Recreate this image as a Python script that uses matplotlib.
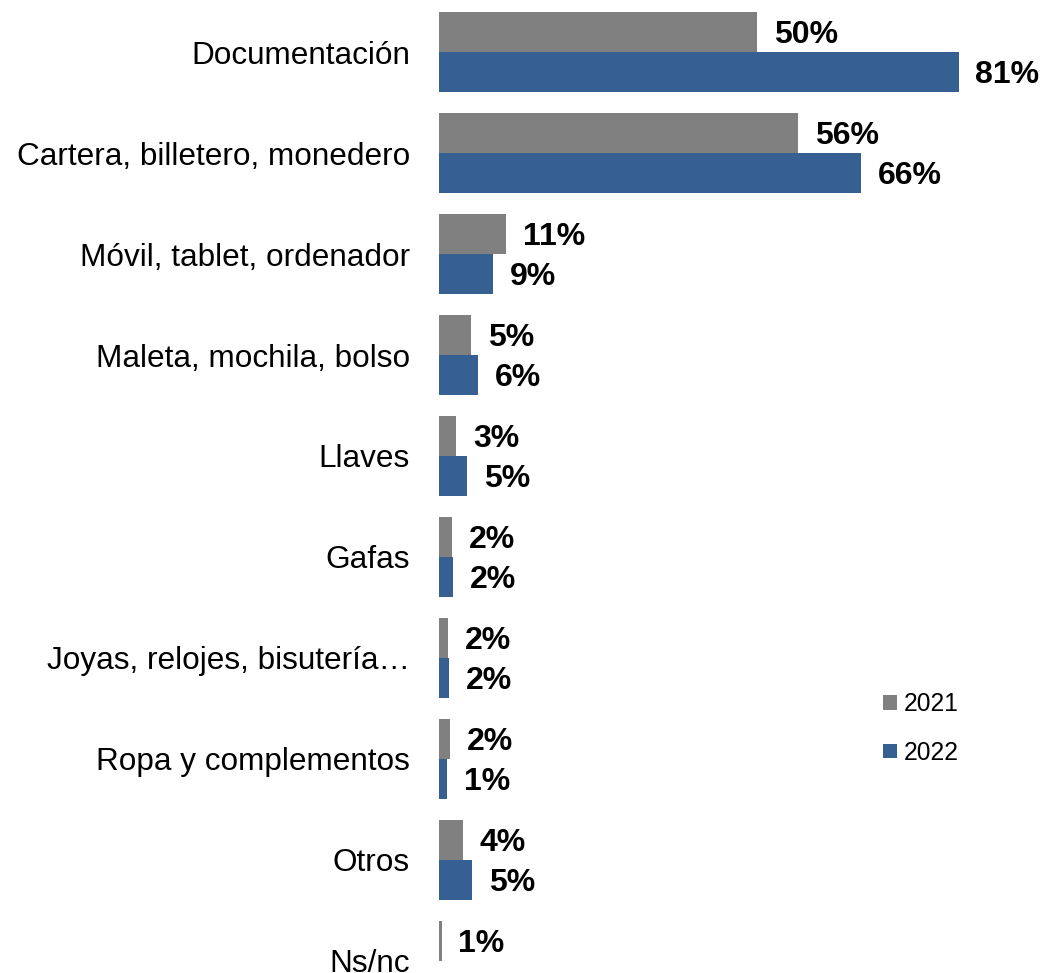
import numpy as np
import matplotlib.pyplot as plt

plt.rcParams['font.family'] = ['Liberation Sans', 'DejaVu Sans']

categorias = ['Documentación', 'Cartera, billetero, monedero', 'Móvil, tablet, ordenador',
              'Maleta, mochila, bolso', 'Llaves', 'Gafas', 'Joyas, relojes, bisutería…',
              'Ropa y complementos', 'Otros', 'Ns/nc']
v2021 = [49.7, 56.1, 10.5, 5.0, 2.7, 2.0, 1.4, 1.7, 3.75, 0.4]
v2022 = [81.2, 65.9, 8.4, 6.1, 4.4, 2.2, 1.6, 1.25, 5.2, np.nan]
etiq2021 = ['50%', '56%', '11%', '5%', '3%', '2%', '2%', '2%', '4%', '1%']
etiq2022 = ['81%', '66%', '9%', '6%', '5%', '2%', '2%', '1%', '5%', '']

gris = '#808080'
azul = '#376092'

fig = plt.figure(figsize=(10.45, 9.73), dpi=100)
ax = fig.add_axes([439 / 1045, 0, 640 / 1045, 1])

y = np.arange(len(categorias))
h = 0.396
b1 = ax.barh(y - h / 2, v2021, height=h, color=gris, label='2021')
b2 = ax.barh(y + h / 2, v2022, height=h, color=azul, label='2022')

# etiquetas de valor en negrita a la derecha de cada barra
for bars, etiq in [(b1, etiq2021), (b2, etiq2022)]:
    for bar, t in zip(bars, etiq):
        if not t:
            continue
        ax.annotate(t, (bar.get_width(), bar.get_y() + bar.get_height() / 2),
                    xytext=(12, -2.5), textcoords='offset points',
                    ha='left', va='center', fontsize=23, fontweight='bold')

ax.set_xlim(0, 100)
ax.set_ylim(9.119, -0.515)
ax.set_yticks(y)
ax.set_yticklabels(categorias, fontsize=22.7)
ax.tick_params(axis='y', length=0, pad=21)
ax.set_xticks([])
for s in ax.spines.values():
    s.set_visible(False)

ax.legend(loc='upper left', bbox_to_anchor=(861 / 1045, 1 - 670 / 973),
          bbox_transform=fig.transFigure, frameon=False, fontsize=17.7,
          handlelength=0.55, handleheight=0.55, handletextpad=0.3, labelspacing=1.0)

plt.savefig('out.png')
